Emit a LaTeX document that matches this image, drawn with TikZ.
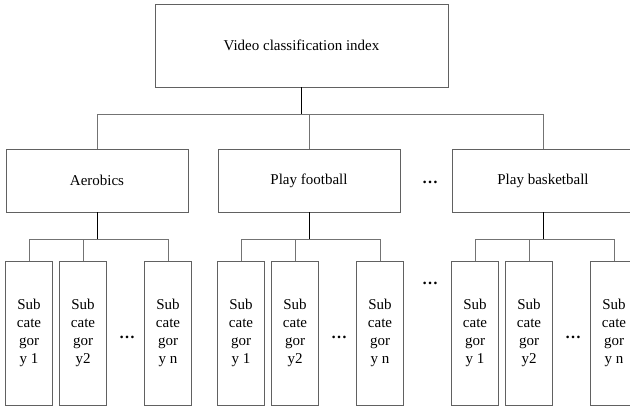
\documentclass[tikz,border=0pt]{standalone}
\usepackage{fontspec}
\setmainfont{Liberation Serif}
\begin{document}
\begin{tikzpicture}[x=1pt,y=-1pt,
  box/.style={draw=black!62,line width=0.9pt,fill=white,inner sep=0pt,font=\fontsize{15}{18}\selectfont},
  subbox/.style={box,minimum width=47pt,minimum height=144pt,align=center},
  midbox/.style={box,minimum width=182pt,minimum height=63pt},
  stem/.style={draw=black,line width=0.9pt},
  bus/.style={draw=black!55,line width=0.9pt},
  dots/.style={font=\fontsize{16}{18}\selectfont\bfseries,inner sep=0pt}]
\clip (0,0) rectangle (630,408);
\useasboundingbox (0,0) rectangle (630,408);
\fill[white] (0,0) rectangle (630,408);

\node[box,minimum width=293pt,minimum height=83pt] (root) at (301.5,45.5) {Video classification index};

\node[midbox] (c1) at (97,180.5) {Aerobics};
\node[midbox] (c2) at (309,180.5) {Play football};
\node[midbox] (c3) at (543,180.5) {Play basketball};

\coordinate (bt) at (0,114);
\draw[stem] (root.south) -- (root.south |- bt);
\draw[bus] (c1.north |- bt) -- (c3.north |- bt);
\foreach \c in {c1,c2,c3} \draw[bus] (\c.north |- bt) -- (\c.north);

\node[dots] (d1) at (430,182) {…};
\node[dots] (d2) at (430,283) {…};

\coordinate (bs) at (0,239);
\foreach \c/\g in {c1/97,c2/309,c3/543} {
  \node[subbox] (\c a) at (\g-68,333) {Sub\\cate\\gor\\y 1};
  \node[subbox] (\c b) at (\g-14,333) {Sub\\cate\\gor\\y2};
  \node[subbox] (\c n) at (\g+71,333) {Sub\\cate\\gor\\y n};
  \node[dots] (\c d) at (\g+30,337) {…};
  \draw[stem] (\c.south) -- (\c.south |- bs);
  \draw[bus] (\c a.north |- bs) -- (\c n.north |- bs);
  \draw[bus] (\c a.north |- bs) -- (\c a.north);
  \draw[bus] (\c b.north |- bs) -- (\c b.north);
  \draw[bus] (\c n.north |- bs) -- (\c n.north);
}
\end{tikzpicture}
\end{document}
